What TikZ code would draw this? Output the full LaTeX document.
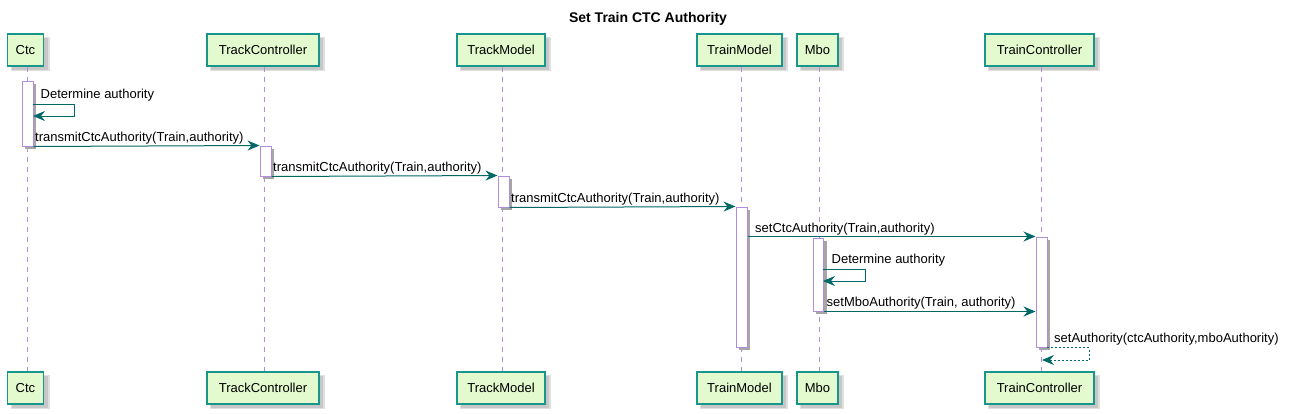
\documentclass[tikz,border=0pt]{standalone}
\usepackage{fontspec}
\setmainfont{Liberation Sans}
\usetikzlibrary{arrows.meta}
\definecolor{boxfill}{RGB}{226,250,206}
\definecolor{boxline}{RGB}{24,150,140}
\definecolor{arrowc}{RGB}{0,104,102}
\definecolor{lifec}{RGB}{180,140,215}
\definecolor{barc}{RGB}{180,140,220}
\tikzset{
  x=1pt, y=-1pt,
  part/.style={draw=boxline, line width=1.3pt, fill=boxfill, minimum height=32pt, inner sep=0pt,
     font=\fontsize{13}{15}\selectfont},
  life/.style={draw=lifec, line width=0.9pt, dash pattern=on 5pt off 5pt},
  actbar/.style={draw=barc, line width=1pt, fill=white, minimum width=11pt, inner sep=0pt},
  msg/.style={draw=arrowc, line width=1pt, -{Stealth[length=12pt,width=10pt,inset=4pt]}},
  retmsg/.style={msg, dash pattern=on 2pt off 2pt},
  lbl/.style={anchor=base west, inner sep=0pt, font=\fontsize{13}{15}\selectfont},
}
\begin{document}
\begin{tikzpicture}
\useasboundingbox (0,0) rectangle (1293,413);
\fill[white] (0,0) rectangle (1293,413);
\node[font=\fontsize{14}{16}\selectfont\bfseries] (title) at (648,19) {Set Train CTC Authority};

% shadows of participant boxes
\foreach \cx/\w in {25.5/36,263/112,501/88,739.5/85,817.5/41,1039.5/109}{
  \fill[black!12] (\cx-\w/2+3,37) rectangle (\cx+\w/2+6,71);
  \fill[black!22] (\cx-\w/2+4,38) rectangle (\cx+\w/2+4,70);
  \fill[black!12] (\cx-\w/2+3,375) rectangle (\cx+\w/2+6,409);
  \fill[black!22] (\cx-\w/2+4,376) rectangle (\cx+\w/2+4,408);
}
% participants top
\node[part, minimum width=36pt] (ctcT) at (25.5,50) {Ctc};
\node[part, minimum width=112pt] (tcT) at (263,50) {TrackController};
\node[part, minimum width=88pt] (tmT) at (501,50) {TrackModel};
\node[part, minimum width=85pt] (trmT) at (739.5,50) {TrainModel};
\node[part, minimum width=41pt] (mboT) at (817.5,50) {Mbo};
\node[part, minimum width=109pt] (tcoT) at (1039.5,50) {TrainController};
% participants bottom
\node[part, minimum width=36pt] (ctcB) at (25.5,388) {Ctc};
\node[part, minimum width=112pt] (tcB) at (263,388) {TrackController};
\node[part, minimum width=88pt] (tmB) at (501,388) {TrackModel};
\node[part, minimum width=85pt] (trmB) at (739.5,388) {TrainModel};
\node[part, minimum width=41pt] (mboB) at (817.5,388) {Mbo};
\node[part, minimum width=109pt] (tcoB) at (1039.5,388) {TrainController};

% lifelines
\foreach \n in {ctc,tc,tm,trm,mbo,tco}{
  \draw[life] ([xshift=1.5pt]\n T.south) -- ([xshift=1.5pt]\n B.north);
}

% activation bar shadows
\foreach \xa/\ya/\yb in {27.5/81/146, 265.5/146/176, 503.5/176/207, 741.5/207/347, 818/238/311, 1041.5/237/347}{
  \fill[black!35] (\xa-5.5+3,\ya+3) rectangle (\xa+5.5+3,\yb+3);
}
% activation bars
\node[actbar, minimum height=65pt] (ctcA) at (27.5,113.5) {};
\node[actbar, minimum height=30pt] (tcA) at (265.5,161) {};
\node[actbar, minimum height=31pt] (tmA) at (503.5,191.5) {};
\node[actbar, minimum height=140pt] (trmA) at (741.5,277) {};
\node[actbar, minimum height=73pt, minimum width=10pt] (mboA) at (818,274.5) {};
\node[actbar, minimum height=110pt] (tcoA) at (1041.5,292) {};

% 1 self message at Ctc
\coordinate (s1a) at (33,104);
\coordinate (s1b) at (74,104);
\coordinate (s1c) at (74,116);
\coordinate (s1d) at (33,116);
\draw[msg] (s1a) -- (s1b) -- (s1c) -- (s1d);
\node[lbl] (l1) at (40.5,98) {Determine authority};

% 2
\draw[msg] (ctcA.south east) -- (tcA.north west);
\node[lbl] (l2) at (35,141.5) {transmitCtcAuthority(Train,authority)};
% 3
\draw[msg] (tcA.south east) -- (tmA.north west);
\node[lbl] (l3) at (273,171.5) {transmitCtcAuthority(Train,authority)};
% 4
\draw[msg] (tmA.south east) -- (trmA.north west);
\node[lbl] (l4) at (511,202.5) {transmitCtcAuthority(Train,authority)};
% 5
\draw[msg] (trmA.east |- tcoA.north west) -- (tcoA.north west);
\node[lbl] (l5) at (755,232.5) {setCtcAuthority(Train,authority)};
% 6 self at Mbo
\coordinate (s6a) at (823,269);
\coordinate (s6b) at (865,269);
\coordinate (s6c) at (865,281);
\coordinate (s6d) at (823,281);
\draw[msg] (s6a) -- (s6b) -- (s6c) -- (s6d);
\node[lbl] (l6) at (831.5,263) {Determine authority};
% 7
\draw[msg] (mboA.south east) -- (tcoA.west |- mboA.south east);
\node[lbl] (l7) at (826.5,306.5) {setMboAuthority(Train, authority)};
% 8 return self at TrainController
\coordinate (s8a) at (1047,347.5);
\coordinate (s8b) at (1089,347.5);
\coordinate (s8c) at (1089,360);
\coordinate (s8d) at (1042,360);
\draw[retmsg] (s8a) -- (s8b) -- (s8c) -- (s8d);
\node[lbl] (l8) at (1054,342) {setAuthority(ctcAuthority,mboAuthority)};
\end{tikzpicture}
\end{document}
